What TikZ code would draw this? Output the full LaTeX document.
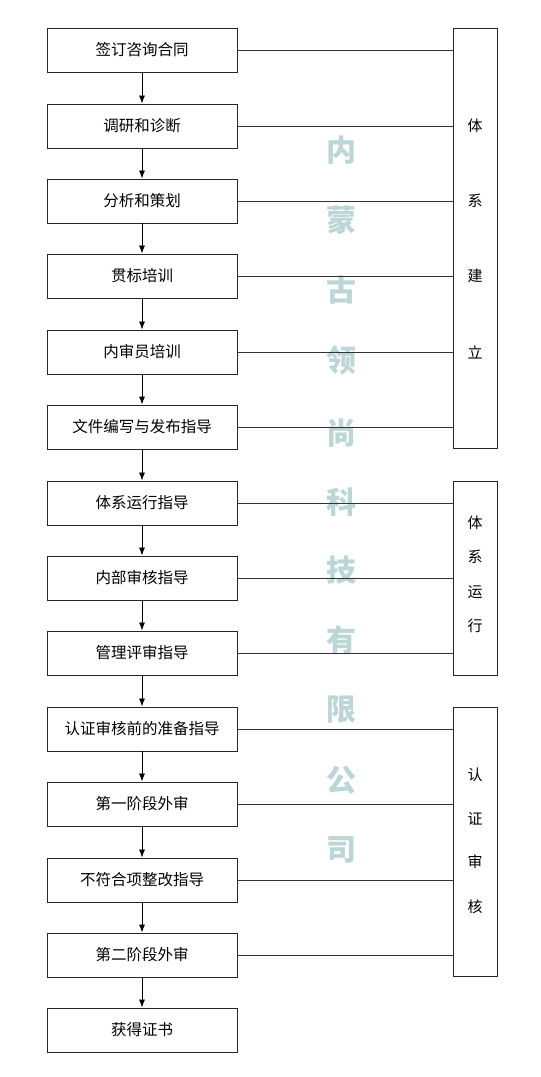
\documentclass[tikz,border=0pt]{standalone}
\usepackage{fontspec}
\newfontfamily\cjk{Noto Sans CJK SC}
\usetikzlibrary{arrows.meta}
\definecolor{wmcol}{RGB}{188,214,214}
\begin{document}
\begin{tikzpicture}[x=1pt,y=-1pt,
  stepbox/.style={draw=black!85,line width=0.9pt,minimum width=190pt,minimum height=44pt,inner sep=0pt,font=\cjk\fontsize{15.5}{17}\selectfont},
  sidebox/.style={draw=black!85,line width=0.9pt,minimum width=44pt,inner sep=0pt},
  flow/.style={-{Latex[length=8pt,width=6pt]},line width=0.8pt,black},
  link/.style={line width=0.8pt,black!80},
  wm/.style={font=\cjk\bfseries\fontsize{30}{30}\selectfont,text=wmcol},
  sidetxt/.style={font=\cjk\fontsize{15}{17}\selectfont}]
\useasboundingbox (0,0) rectangle (541,1077);
\fill[white] (0,0) rectangle (541,1077);
% watermark
\foreach \c/\y [count=\i] in {内/150,蒙/220,古/290,领/360,尚/433,科/502,技/570,有/640,限/710,公/780,司/850}
  \node[wm] (w\i) at (341,\y) {\c};
% steps
\node[stepbox] (s1) at (142,50) {签订咨询合同};
\node[stepbox] (s2) at (142,126) {调研和诊断};
\node[stepbox] (s3) at (142,201) {分析和策划};
\node[stepbox] (s4) at (142,276) {贯标培训};
\node[stepbox] (s5) at (142,352) {内审员培训};
\node[stepbox] (s6) at (142,427) {文件编写与发布指导};
\node[stepbox] (s7) at (142,503) {体系运行指导};
\node[stepbox] (s8) at (142,578) {内部审核指导};
\node[stepbox] (s9) at (142,653) {管理评审指导};
\node[stepbox] (s10) at (142,729) {认证审核前的准备指导};
\node[stepbox] (s11) at (142,804) {第一阶段外审};
\node[stepbox] (s12) at (142,880) {不符合项整改指导};
\node[stepbox] (s13) at (142,955) {第二阶段外审};
\node[stepbox] (s14) at (142,1030) {获得证书};
\foreach \a/\b in {1/2,2/3,3/4,4/5,5/6,6/7,7/8,8/9,9/10,10/11,11/12,12/13,13/14}
  \draw[flow] (s\a.south) -- (s\b.north);
% side boxes
\node[sidebox,minimum height=420pt] (g1) at (475,238) {};
\node[sidebox,minimum height=194pt] (g2) at (475,578) {};
\node[sidebox,minimum height=269pt] (g3) at (475,841.5) {};
\node[sidetxt] (t1a) at (475,126) {体};
\node[sidetxt] (t1b) at (475,201) {系};
\node[sidetxt] (t1c) at (475,276) {建};
\node[sidetxt] (t1d) at (475,352) {立};
\node[sidetxt] (t2a) at (475,523) {体};
\node[sidetxt] (t2b) at (475,557) {系};
\node[sidetxt] (t2c) at (475,592) {运};
\node[sidetxt] (t2d) at (475,626) {行};
\node[sidetxt] (t3a) at (475,775) {认};
\node[sidetxt] (t3b) at (475,819) {证};
\node[sidetxt] (t3c) at (475,862) {审};
\node[sidetxt] (t3d) at (475,907) {核};
% links
\foreach \s in {1,...,6} \draw[link] (s\s.east) -- (s\s.east -| g1.west);
\foreach \s in {7,8,9} \draw[link] (s\s.east) -- (s\s.east -| g2.west);
\foreach \s in {10,...,13} \draw[link] (s\s.east) -- (s\s.east -| g3.west);
\end{tikzpicture}
\end{document}
